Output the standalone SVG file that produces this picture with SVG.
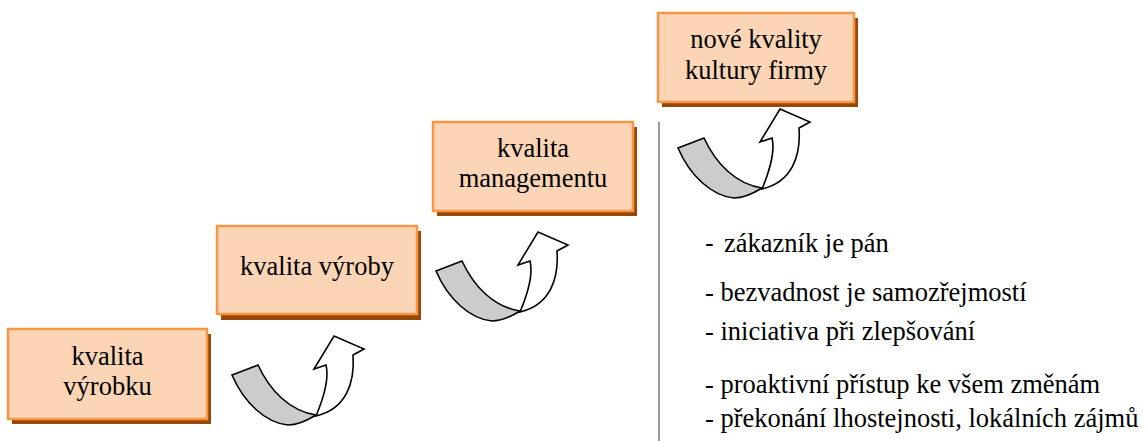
<svg xmlns="http://www.w3.org/2000/svg" width="1145" height="441" viewBox="0 0 1145 441">
  <style>
    .shadow { fill: #984807; }
    .box { fill: #FBD5B5; stroke: #F79646; stroke-width: 2.5; }
    text { font-family: "Times New Roman", "Liberation Serif", Tinos, serif; font-size: 26.5px; fill: #000; }
    .label { text-anchor: middle; }
    .dash { font-family: "Liberation Sans", Arial, sans-serif; }
    .band { fill: #CCCCCC; stroke: #000; stroke-width: 1.6; stroke-linejoin: miter; }
    .head { fill: #FFFFFF; stroke: #000; stroke-width: 1.6; stroke-linejoin: miter; }
  </style>
  <defs>
    <!-- curved step arrow: grey band turning into an upward white arrow -->
    <g id="stepArrow">
      <path class="band" d="M0,0 L26,-10 C38,16 58,36 84,40 C76,45 66,50 56,50 C34,48 12,28 0,0 Z"/>
      <path class="head" d="M84,41 C92,22 97,2 94,-10 L82,-6 L102,-39 L132,-26 L121,-20 C123,8 114,34 84,41 Z"/>
    </g>
  </defs>

  <rect width="1145" height="441" fill="#FFFFFF"/>

  <g id="node-vyrobek">
    <rect class="shadow" x="12" y="334" width="199" height="90"/>
    <rect class="box" x="8" y="329" width="199" height="90"/>
    <text class="label" x="107.5" y="365">kvalita</text>
    <text class="label" x="107.5" y="395">výrobku</text>
  </g>

  <g id="node-vyroba">
    <rect class="shadow" x="221" y="231" width="200" height="89"/>
    <rect class="box" x="217" y="226" width="200" height="88"/>
    <text class="label" x="317" y="275">kvalita výroby</text>
  </g>

  <g id="node-management">
    <rect class="shadow" x="437" y="127" width="200" height="89"/>
    <rect class="box" x="433" y="122" width="200" height="89"/>
    <text class="label" x="533" y="157">kvalita</text>
    <text class="label" x="533" y="187">managementu</text>
  </g>

  <g id="node-kultura">
    <rect class="shadow" x="662" y="18" width="196" height="89"/>
    <rect class="box" x="658" y="13" width="196" height="89"/>
    <text class="label" x="756" y="48">nové kvality</text>
    <text class="label" x="756" y="79">kultury firmy</text>
  </g>

  <g id="connectors">
    <use href="#stepArrow" transform="translate(232,375)"/>
    <use href="#stepArrow" transform="translate(436,271)"/>
    <use href="#stepArrow" transform="translate(678,148)"/>
  </g>

  <g id="culture-list">
    <line x1="659" y1="122" x2="659" y2="441" stroke="#999999" stroke-width="2"/>
    <text x="705" y="252"><tspan class="dash">-</tspan><tspan x="724">zákazník je pán</tspan></text>
    <text x="705" y="301">- bezvadnost je samozřejmostí</text>
    <text x="705" y="340">- iniciativa při zlepšování</text>
    <text x="705" y="393">- proaktivní přístup ke všem změnám</text>
    <text x="705" y="427">- překonání lhostejnosti, lokálních zájmů</text>
  </g>
</svg>
